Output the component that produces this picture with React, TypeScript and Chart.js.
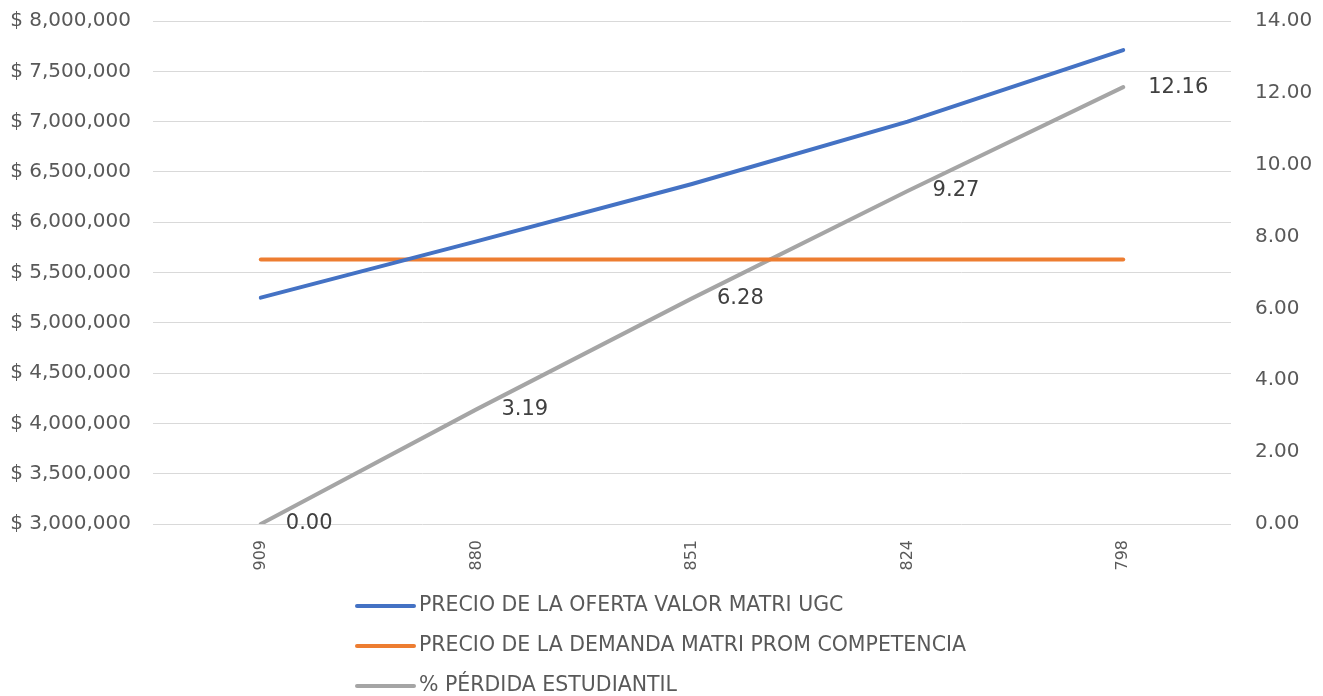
import React, { useEffect, useRef } from "react";
import { Chart, registerables } from "chart.js";

Chart.register(...registerables);

const categories = ["909", "880", "851", "824", "798"];
const ofertaValues = [5250000, 5810000, 6380000, 7000000, 7710000];
const demandaValues = [5630000, 5630000, 5630000, 5630000, 5630000];
const perdidaValues = [0.0, 3.19, 6.28, 9.27, 12.16];
const seriesLabels = [
  "PRECIO DE LA OFERTA VALOR MATRI UGC",
  "PRECIO DE LA DEMANDA MATRI PROM COMPETENCIA",
  "% PÉRDIDA ESTUDIANTIL",
];
const seriesColors = ["#4472C4", "#ED7D31", "#A5A5A5"];

const FONT = "'DejaVu Sans', sans-serif";

const labelPlugin = {
  id: "pointLabels",
  afterDatasetsDraw(chart: any) {
    const ctx = chart.ctx;
    const meta = chart.getDatasetMeta(2);
    const ds = chart.data.datasets[2];
    ctx.save();
    ctx.font = `21px ${FONT}`;
    ctx.fillStyle = "#404040";
    ctx.textAlign = "left";
    ctx.textBaseline = "middle";
    meta.data.forEach((pt: any, i: number) => {
      ctx.fillText(Number(ds.data[i]).toFixed(2), pt.x + 25, pt.y);
    });
    ctx.restore();
  },
};

const legendPlugin = {
  id: "customLegend",
  afterDraw(chart: any) {
    const ctx = chart.ctx;
    ctx.save();
    ctx.font = `20.5px ${FONT}`;
    ctx.textAlign = "left";
    ctx.textBaseline = "middle";
    chart.data.datasets.forEach((ds: any, i: number) => {
      const y = 606 + i * 40;
      ctx.strokeStyle = ds.borderColor;
      ctx.lineWidth = 4;
      ctx.lineCap = "round";
      ctx.beginPath();
      ctx.moveTo(357, y);
      ctx.lineTo(414, y);
      ctx.stroke();
      ctx.fillStyle = "#595959";
      ctx.fillText(ds.label, 419, y);
    });
    ctx.restore();
  },
};

export default function App() {
  const ref = useRef<HTMLCanvasElement>(null);
  useEffect(() => {
    document.body.style.margin = "0";
    const chart = new Chart(ref.current!, {
      type: "line",
      data: {
        labels: categories,
        datasets: [
          {
            label: seriesLabels[0],
            data: ofertaValues,
            borderColor: seriesColors[0],
            backgroundColor: seriesColors[0],
            borderWidth: 4,
            pointRadius: 0,
            borderCapStyle: "round",
            yAxisID: "y",
          },
          {
            label: seriesLabels[1],
            data: demandaValues,
            borderColor: seriesColors[1],
            backgroundColor: seriesColors[1],
            borderWidth: 4,
            pointRadius: 0,
            borderCapStyle: "round",
            yAxisID: "y",
          },
          {
            label: seriesLabels[2],
            data: perdidaValues,
            borderColor: seriesColors[2],
            backgroundColor: seriesColors[2],
            borderWidth: 4,
            pointRadius: 0,
            borderCapStyle: "round",
            yAxisID: "y1",
          },
        ],
      },
      options: {
        animation: false,
        responsive: true,
        maintainAspectRatio: false,
        layout: { padding: { top: 21, left: 0, right: 0, bottom: 0 } },
        plugins: { legend: { display: false }, tooltip: { enabled: false } },
        scales: {
          x: {
            offset: true,
            grid: { display: false },
            border: { display: false },
            ticks: {
              maxRotation: 90,
              minRotation: 90,
              padding: 8,
              color: "#595959",
              font: { family: FONT, size: 16 },
            },
            afterFit(scale: any) {
              scale.height = 172;
            },
          },
          y: {
            position: "left",
            min: 3000000,
            max: 8000000,
            grid: {
              color: "#d9d9d9",
              lineWidth: 1,
              drawTicks: true,
              tickLength: 22,
              tickColor: "rgba(0,0,0,0)",
            },
            border: { display: false },
            ticks: {
              stepSize: 500000,
              padding: 0,
              color: "#595959",
              font: { family: FONT, size: 20 },
              callback: (v: any) => "$ " + Number(v).toLocaleString("en-US"),
            },
            afterFit(scale: any) {
              scale.width = 153;
            },
          },
          y1: {
            position: "right",
            min: 0,
            max: 14,
            grid: {
              display: true,
              drawOnChartArea: false,
              drawTicks: true,
              tickLength: 24,
              tickColor: "rgba(0,0,0,0)",
            },
            border: { display: false },
            ticks: {
              stepSize: 2,
              padding: 0,
              color: "#595959",
              font: { family: FONT, size: 20 },
              callback: (v: any) => Number(v).toFixed(2),
            },
            afterFit(scale: any) {
              scale.width = 92;
            },
          },
        },
      },
      plugins: [labelPlugin, legendPlugin],
    });
    return () => chart.destroy();
  }, []);
  return (
    <div style={{ width: 1323, height: 696, position: "relative", background: "#fff" }}>
      <canvas ref={ref} />
    </div>
  );
}
